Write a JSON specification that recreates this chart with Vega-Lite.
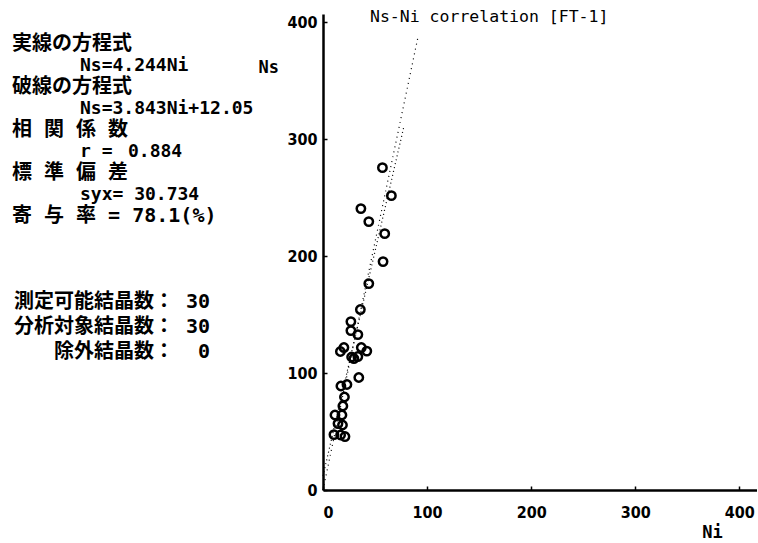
{
  "$schema": "https://vega.github.io/schema/vega-lite/v6.json",
  "padding": {"left": 0, "top": 8, "right": 0, "bottom": 0},
  "spacing": 0,
  "background": "white",
  "config": {"view": {"stroke": null}, "axis": {"grid": false}},
  "datasets": {
    "notes": [
      {"row": 0, "col": 12, "kind": "jp", "t": "実線の方程式"},
      {"row": 1, "col": 80, "kind": "en", "t": "Ns=4.244Ni"},
      {"row": 2, "col": 12, "kind": "jp", "t": "破線の方程式"},
      {"row": 3, "col": 80, "kind": "en", "t": "Ns=3.843Ni+12.05"},
      {"row": 4, "col": 12, "kind": "jp", "t": "相 関 係 数"},
      {"row": 5, "col": 80, "kind": "en", "t": "r ="},
      {"row": 5, "col": 128, "kind": "en", "t": "0.884"},
      {"row": 6, "col": 12, "kind": "jp", "t": "標 準 偏 差"},
      {"row": 7, "col": 80, "kind": "en", "t": "syx= 30.734"},
      {"row": 8, "col": 12, "kind": "jp", "t": "寄 与 率 = 78.1(%)"},
      {"row": 12, "col": 14, "kind": "jp", "t": "測定可能結晶数： 30"},
      {"row": 13.15, "col": 14, "kind": "jp", "t": "分析対象結晶数： 30"},
      {"row": 14.3, "col": 54, "kind": "jp", "t": "除外結晶数：\u00a0\u00a00"}
    ],
    "points": [
      {"Ni": 57.1, "Ns": 275.6},
      {"Ni": 65.7, "Ns": 251.7},
      {"Ni": 36.4, "Ns": 240.6},
      {"Ni": 44.0, "Ns": 229.5},
      {"Ni": 59.3, "Ns": 219.2},
      {"Ni": 57.7, "Ns": 195.3},
      {"Ni": 44.0, "Ns": 176.5},
      {"Ni": 35.9, "Ns": 154.3},
      {"Ni": 26.8, "Ns": 144.0},
      {"Ni": 26.8, "Ns": 136.3},
      {"Ni": 33.5, "Ns": 132.9},
      {"Ni": 20.1, "Ns": 121.8},
      {"Ni": 16.7, "Ns": 118.4},
      {"Ni": 36.8, "Ns": 121.8},
      {"Ni": 42.1, "Ns": 118.8},
      {"Ni": 27.5, "Ns": 113.7},
      {"Ni": 33.5, "Ns": 114.1},
      {"Ni": 34.4, "Ns": 96.2},
      {"Ni": 17.2, "Ns": 88.9},
      {"Ni": 23.0, "Ns": 90.2},
      {"Ni": 20.6, "Ns": 79.5},
      {"Ni": 19.1, "Ns": 71.8},
      {"Ni": 11.5, "Ns": 64.1},
      {"Ni": 18.2, "Ns": 64.1},
      {"Ni": 18.7, "Ns": 55.6},
      {"Ni": 10.5, "Ns": 47.4},
      {"Ni": 16.9, "Ns": 47.0},
      {"Ni": 21.1, "Ns": 45.7},
      {"Ni": 14.4, "Ns": 56.8},
      {"Ni": 29.7, "Ns": 112.4}
    ],
    "lines": [
      {"series": "solid", "Ni": 0, "Ns": 0},
      {"series": "solid", "Ni": 91.5, "Ns": 388.3},
      {"series": "dashed", "Ni": 0, "Ns": 12.05},
      {"series": "dashed", "Ni": 78, "Ns": 311.8}
    ]
  },
  "hconcat": [
    {
      "width": 258,
      "height": 476,
      "data": {"name": "notes"},
      "encoding": {
        "x": {"field": "col", "type": "quantitative", "scale": {"domain": [0, 258], "nice": false, "zero": false}, "axis": null},
        "y": {"field": "row", "type": "quantitative", "scale": {"domain": [-1.4, 20.74], "nice": false, "zero": false, "reverse": true}, "axis": null},
        "text": {"field": "t"}
      },
      "layer": [
        {
          "transform": [{"filter": "datum.kind == 'jp'"}],
          "mark": {"type": "text", "align": "left", "baseline": "middle", "font": "DejaVu Sans Mono, Noto Sans CJK JP", "fontSize": 20, "fontWeight": "bold", "color": "black"}
        },
        {
          "transform": [{"filter": "datum.kind == 'en'"}],
          "mark": {"type": "text", "align": "left", "baseline": "middle", "font": "DejaVu Sans Mono", "fontSize": 18, "fontWeight": "bold", "color": "black"}
        }
      ]
    },
    {
      "width": 434,
      "height": 476,
      "title": {"text": "Ns-Ni correlation [FT-1]", "anchor": "start", "frame": "group", "offset": 0, "dx": 47, "dy": 11, "font": "DejaVu Sans Mono", "fontSize": 16.5, "fontWeight": "normal", "color": "black"},
      "layer": [
        {
          "data": {"name": "lines"},
          "transform": [{"filter": "datum.series == 'solid'"}],
          "mark": {"type": "line", "color": "black", "strokeWidth": 1.2, "strokeDash": [1, 4]},
          "encoding": {
            "x": {"field": "Ni", "type": "quantitative"},
            "y": {"field": "Ns", "type": "quantitative"}
          }
        },
        {
          "data": {"name": "lines"},
          "transform": [{"filter": "datum.series == 'dashed'"}],
          "mark": {"type": "line", "color": "black", "strokeWidth": 1.2, "strokeDash": [1, 3]},
          "encoding": {
            "x": {"field": "Ni", "type": "quantitative"},
            "y": {"field": "Ns", "type": "quantitative"}
          }
        },
        {
          "data": {"name": "points"},
          "mark": {"type": "point", "shape": "circle", "filled": false, "stroke": "black", "strokeWidth": 2.5, "size": 70, "opacity": 1},
          "encoding": {
            "x": {
              "field": "Ni", "type": "quantitative",
              "scale": {"domain": [0, 417], "nice": false},
              "axis": {"values": [0, 100, 200, 300, 400], "title": "Ni", "titleAngle": 0, "titleX": 389, "titleY": 42, "titleAlign": "center", "titleBaseline": "middle", "titleFont": "DejaVu Sans Mono", "titleFontSize": 17, "titleFontWeight": "bold", "titleColor": "black", "labelFont": "DejaVu Sans Condensed", "labelFontSize": 16, "labelFontWeight": "bold", "labelColor": "black", "labelPadding": 18, "domainColor": "black", "domainWidth": 2.5, "tickColor": "black", "tickSize": -4, "tickWidth": 1.5}
            },
            "y": {
              "field": "Ns", "type": "quantitative",
              "scale": {"domain": [0, 407], "nice": false},
              "axis": {"values": [0, 100, 200, 300, 400], "title": "Ns", "titleAngle": 0, "titleX": -65, "titleY": 53, "titleAlign": "left", "titleBaseline": "middle", "titleFont": "DejaVu Sans Mono", "titleFontSize": 17, "titleFontWeight": "bold", "titleColor": "black", "labelFont": "DejaVu Sans Condensed", "labelFontSize": 16, "labelFontWeight": "bold", "labelColor": "black", "labelPadding": 10, "domainColor": "black", "domainWidth": 2.5, "tickColor": "black", "tickSize": -4, "tickWidth": 1.5}
            }
          }
        }
      ]
    }
  ]
}
